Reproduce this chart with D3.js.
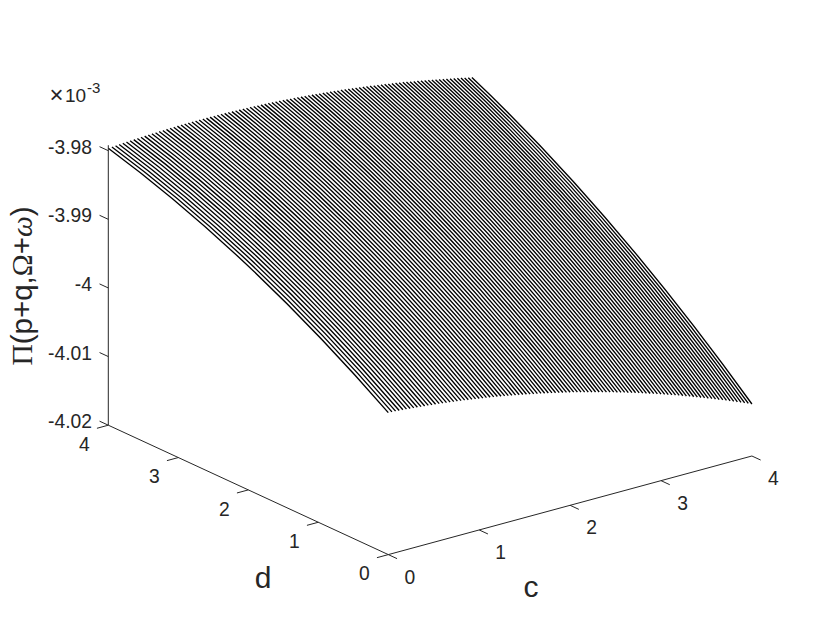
<!DOCTYPE html>
<html>
<head>
<meta charset="utf-8">
<script src="https://cdn.jsdelivr.net/npm/d3@7"></script>
<style>
html,body{margin:0;padding:0;background:#fff}
svg{display:block}
text{font-family:"Liberation Sans",Arial,sans-serif;fill:#262626}
</style>
</head>
<body>
<svg id="chart" width="830" height="623"></svg>
<script>
// Tick labels
const cTicks = [0, 1, 2, 3, 4];
const dTicks = [0, 1, 2, 3, 4];
const zTicks = [-3.98, -3.99, -4, -4.01, -4.02];

// Height of the surface (in units of 1e-3) along each of the 101 mesh lines.
// These are visual estimates: the d=4 and d=0 rows follow the surface's visible
// edge curves, smoothed; the d=2 row is inferred from the bow of the side edges.
const surfaceD4 = [-3.97964,-3.97960,-3.97956,-3.97952,-3.97948,-3.97945,-3.97942,-3.97939,-3.97936,-3.97933,-3.97931,-3.97928,-3.97926,-3.97924,-3.97922,-3.97921,-3.97919,-3.97918,-3.97916,-3.97915,-3.97914,-3.97914,-3.97913,-3.97913,-3.97913,-3.97912,-3.97913,-3.97913,-3.97913,-3.97914,-3.97914,-3.97915,-3.97916,-3.97918,-3.97919,-3.97921,-3.97922,-3.97924,-3.97926,-3.97928,-3.97931,-3.97933,-3.97936,-3.97939,-3.97942,-3.97945,-3.97948,-3.97952,-3.97956,-3.97960,-3.97964,-3.97968,-3.97972,-3.97977,-3.97981,-3.97986,-3.97991,-3.97996,-3.98002,-3.98007,-3.98013,-3.98018,-3.98024,-3.98030,-3.98036,-3.98043,-3.98049,-3.98056,-3.98063,-3.98071,-3.98078,-3.98086,-3.98093,-3.98101,-3.98109,-3.98117,-3.98125,-3.98133,-3.98142,-3.98150,-3.98159,-3.98168,-3.98177,-3.98187,-3.98197,-3.98207,-3.98216,-3.98226,-3.98237,-3.98247,-3.98258,-3.98269,-3.98279,-3.98290,-3.98301,-3.98313,-3.98324,-3.98336,-3.98347,-3.98359,-3.98371];
const surfaceD2 = [-3.98739,-3.98739,-3.98739,-3.98739,-3.98739,-3.98740,-3.98740,-3.98741,-3.98742,-3.98743,-3.98745,-3.98746,-3.98748,-3.98750,-3.98752,-3.98754,-3.98756,-3.98759,-3.98762,-3.98764,-3.98768,-3.98771,-3.98774,-3.98778,-3.98781,-3.98785,-3.98790,-3.98794,-3.98798,-3.98803,-3.98808,-3.98813,-3.98818,-3.98823,-3.98829,-3.98834,-3.98840,-3.98847,-3.98853,-3.98860,-3.98866,-3.98873,-3.98880,-3.98887,-3.98894,-3.98901,-3.98909,-3.98917,-3.98925,-3.98933,-3.98941,-3.98950,-3.98959,-3.98968,-3.98977,-3.98986,-3.98995,-3.99005,-3.99014,-3.99024,-3.99034,-3.99044,-3.99055,-3.99065,-3.99077,-3.99088,-3.99099,-3.99110,-3.99121,-3.99133,-3.99144,-3.99156,-3.99168,-3.99181,-3.99193,-3.99206,-3.99219,-3.99232,-3.99246,-3.99259,-3.99272,-3.99286,-3.99300,-3.99314,-3.99329,-3.99343,-3.99358,-3.99372,-3.99387,-3.99402,-3.99417,-3.99433,-3.99449,-3.99465,-3.99481,-3.99497,-3.99513,-3.99530,-3.99546,-3.99564,-3.99581];
const surfaceD0 = [-3.99931,-3.99934,-3.99938,-3.99943,-3.99947,-3.99952,-3.99957,-3.99962,-3.99967,-3.99973,-3.99978,-3.99984,-3.99990,-3.99996,-4.00002,-4.00009,-4.00015,-4.00022,-4.00029,-4.00036,-4.00044,-4.00051,-4.00059,-4.00068,-4.00076,-4.00084,-4.00093,-4.00101,-4.00110,-4.00119,-4.00128,-4.00138,-4.00147,-4.00157,-4.00168,-4.00178,-4.00188,-4.00199,-4.00210,-4.00221,-4.00232,-4.00243,-4.00254,-4.00266,-4.00278,-4.00291,-4.00303,-4.00315,-4.00328,-4.00340,-4.00353,-4.00366,-4.00380,-4.00394,-4.00408,-4.00422,-4.00436,-4.00450,-4.00464,-4.00479,-4.00494,-4.00508,-4.00524,-4.00540,-4.00555,-4.00571,-4.00587,-4.00603,-4.00619,-4.00636,-4.00653,-4.00670,-4.00687,-4.00704,-4.00721,-4.00739,-4.00758,-4.00776,-4.00794,-4.00812,-4.00830,-4.00849,-4.00869,-4.00888,-4.00907,-4.00926,-4.00946,-4.00966,-4.00987,-4.01007,-4.01027,-4.01048,-4.01068,-4.01090,-4.01111,-4.01132,-4.01154,-4.01175,-4.01198,-4.01220,-4.01242];

const svg = d3.select("#chart");
const INK = "#262626";
const origin = [388.3, 554.6];

// Oblique projection, built from one linear scale per screen contribution.
const cx = d3.scaleLinear([0, 4], [0, 363.6]);
const cy = d3.scaleLinear([0, 4], [0, -98.6]);
const dx = d3.scaleLinear([0, 4], [0, -280]);
const dy = d3.scaleLinear([0, 4], [0, -129.4]);
const zy = d3.scaleLinear([-4.02, -3.98], [0, -274.5]);
const project = (c, d, z) => [
  origin[0] + cx(c) + dx(d),
  origin[1] + cy(c) + dy(d) + zy(z)
];

// Mesh: one line per c value, through the d=0, 2, 4 readings.
const meshC = surfaceD0.map((_, i) => i * 0.04);
const meshPath = i => {
  const p0 = project(meshC[i], 0, surfaceD0[i]);
  const pm = project(meshC[i], 2, surfaceD2[i]);
  const p1 = project(meshC[i], 4, surfaceD4[i]);
  const path = d3.path();
  path.moveTo(p1[0], p1[1]);
  path.quadraticCurveTo(2 * pm[0] - (p0[0] + p1[0]) / 2, 2 * pm[1] - (p0[1] + p1[1]) / 2, p0[0], p0[1]);
  return path.toString();
};

svg.append("g").selectAll("path").data(meshC.map((_, i) => i)).join("path")
  .attr("d", meshPath).attr("fill", "none").attr("stroke", "#000").attr("stroke-width", 1.35);

// Axes
const axes = svg.append("g").attr("stroke", INK).attr("stroke-width", 1).attr("fill", "none");
const seg = (a, b) => axes.append("line").attr("x1", a[0]).attr("y1", a[1]).attr("x2", b[0]).attr("y2", b[1]);
const base = -4.02;
seg(project(0, 0, base), project(4, 0, base));
seg(project(0, 0, base), project(0, 4, base));
seg(project(0, 4, base), project(0, 4, -3.9792));

const tickLen = 0.125;   // tick length, in axis units
cTicks.forEach(c => {
  const a = project(c, 0, base);
  seg(a, [a[0] - dx(tickLen), a[1] - dy(tickLen)]);
});
dTicks.forEach(d => {
  const a = project(0, d, base);
  seg(a, [a[0] - cx(tickLen), a[1] - cy(tickLen)]);
});
zTicks.forEach(z => {
  const a = project(0, 4, z);
  seg(a, [a[0] + dx(tickLen), a[1] + dy(tickLen)]);
});

// Tick labels
const label = (x, y, s, anchor, size) => svg.append("text")
  .attr("x", x).attr("y", y).attr("text-anchor", anchor || "middle")
  .attr("font-size", size || 19.3).text(s);

cTicks.forEach(c => {
  const a = project(c, 0, base);
  label(a[0] + 21.5, a[1] + 29, String(c));
});
dTicks.forEach(d => {
  const a = project(0, d, base);
  label(a[0] - 24, a[1] + 25.8, String(d));
});
zTicks.forEach(z => {
  const a = project(0, 4, z);
  label(92, a[1] + 3, String(z), "end");
});

// Exponent
label(49.5, 103, "\u00D7", "start", 24);
label(65, 102, "10", "start", 19);
label(87, 92.5, "-3", "start", 15);

// Axis titles
label(263, 588, "d", "middle", 30);
label(531, 596.5, "c", "middle", 30);

const yTitle = svg.append("text")
  .attr("transform", "translate(32,286) rotate(-90)")
  .attr("text-anchor", "middle")
  .attr("font-size", 29.5);
const SERIF = "'Liberation Serif',serif";
yTitle.append("tspan").style("font-family", SERIF).text("\u03A0");
yTitle.append("tspan").text("(p+q,");
yTitle.append("tspan").style("font-family", SERIF).text("\u03A9");
yTitle.append("tspan").text("+");
yTitle.append("tspan").style("font-family", SERIF).attr("font-style", "italic").text("\u03C9");
yTitle.append("tspan").text(")");
</script>
</body>
</html>
